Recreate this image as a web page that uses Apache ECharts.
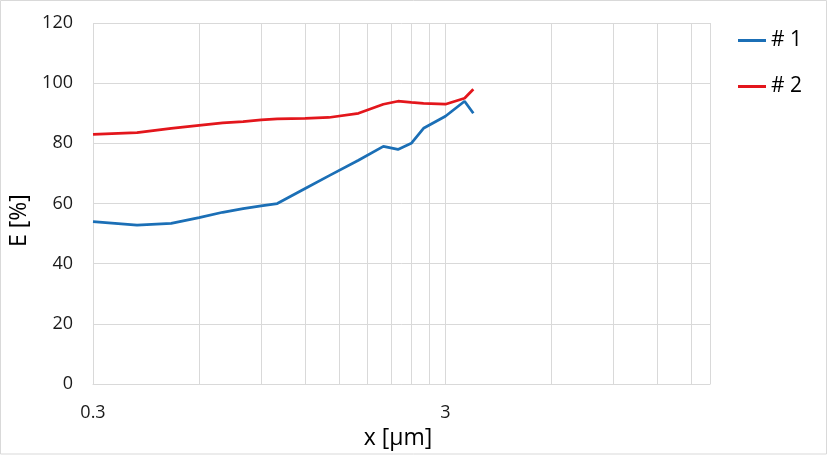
<!DOCTYPE html>
<html>
<head>
<meta charset="utf-8">
<script src="https://cdn.jsdelivr.net/npm/echarts@6/dist/echarts.min.js"></script>
<style>
  html, body { margin: 0; padding: 0; background: #fff; }
  #chart { width: 832px; height: 455px; }
</style>
</head>
<body>
<div id="chart"></div>
<script>
// x positions (μm) shared by both series
const xValues = [0.3, 0.4, 0.5, 0.6, 0.7, 0.8, 0.9, 1.0, 1.2, 1.4, 1.7, 2.0, 2.2, 2.4, 2.6, 3.0, 3.4, 3.6];
const series1 = [54, 52.8, 53.4, 55.3, 57.1, 58.3, 59.2, 60, 65, 69.2, 74.4, 79, 78, 80, 85, 89, 94, 90];
const series2 = [83, 83.6, 85, 86, 86.8, 87.2, 87.8, 88.1, 88.3, 88.6, 90, 93, 94, 93.6, 93.3, 93, 95, 98];
const seriesNames = ['# 1', '# 2'];

// gridlines of the log axis (multiples of 0.3) and labelled ticks
const xMin = 0.3;
const xMax = 16.9;
const xGridValues = [0.3, 0.6, 0.9, 1.2, 1.5, 1.8, 2.1, 2.4, 2.7, 3, 6, 9, 12, 15, 16.9];
const xLabelValues = [0.3, 3];

const toPairs = ys => xValues.map((x, i) => [x, ys[i]]);

const myChart = echarts.init(document.getElementById('chart'));

const option = {
    backgroundColor: '#fff',
    animation: false,
    graphic: [{
        type: 'rect',
        shape: { x: 0.5, y: 0.5, width: 826, height: 453.5 },
        style: { fill: 'none', stroke: '#d9d9d9', lineWidth: 1 }
    }],
    grid: {
        left: 93,
        right: 122,
        top: 23,
        bottom: 70,
        containLabel: false
    },
    legend: {
        orient: 'vertical',
        left: 733,
        top: 25,
        itemGap: 25,
        itemWidth: 28,
        itemHeight: 3,
        icon: 'rect',
        data: seriesNames,
        textStyle: {
            fontFamily: 'Open Sans',
            fontSize: 21,
            color: '#000'
        }
    },
    xAxis: {
        type: 'log',
        logBase: 10,
        min: xMin,
        max: xMax,
        name: 'x [μm]',
        nameLocation: 'middle',
        nameGap: 40,
        nameTextStyle: {
            fontFamily: 'Open Sans',
            fontSize: 23,
            color: '#000',
            padding: [0, 7, 0, 0]
        },
        axisLine: { show: true, lineStyle: { color: '#d9d9d9', width: 1 } },
        axisTick: { show: false, customValues: xGridValues },
        axisLabel: {
            customValues: xLabelValues,
            margin: 20,
            fontFamily: 'Open Sans',
            fontSize: 18,
            color: '#1a1a1a',
            formatter: v => String(+v.toFixed(2))
        },
        splitLine: { show: true, lineStyle: { color: '#d9d9d9', width: 1 } }
    },
    yAxis: {
        type: 'value',
        min: 0,
        max: 120,
        interval: 20,
        name: 'E [%]',
        nameLocation: 'middle',
        nameGap: 46,
        nameTextStyle: {
            fontFamily: 'Open Sans',
            fontSize: 23,
            color: '#000',
            padding: [0, 34, 0, 0]
        },
        axisLine: { show: false },
        axisTick: { show: false },
        axisLabel: {
            margin: 20,
            fontFamily: 'Open Sans',
            fontSize: 18,
            color: '#1a1a1a'
        },
        splitLine: { show: true, lineStyle: { color: '#d9d9d9', width: 1 } }
    },
    series: [
        {
            name: seriesNames[0],
            type: 'line',
            data: toPairs(series1),
            showSymbol: false,
            color: '#1b6fb6',
            lineStyle: { width: 2.75 }
        },
        {
            name: seriesNames[1],
            type: 'line',
            data: toPairs(series2),
            showSymbol: false,
            color: '#e3161c',
            lineStyle: { width: 2.75 }
        }
    ]
};

myChart.setOption(option);
</script>
</body>
</html>
